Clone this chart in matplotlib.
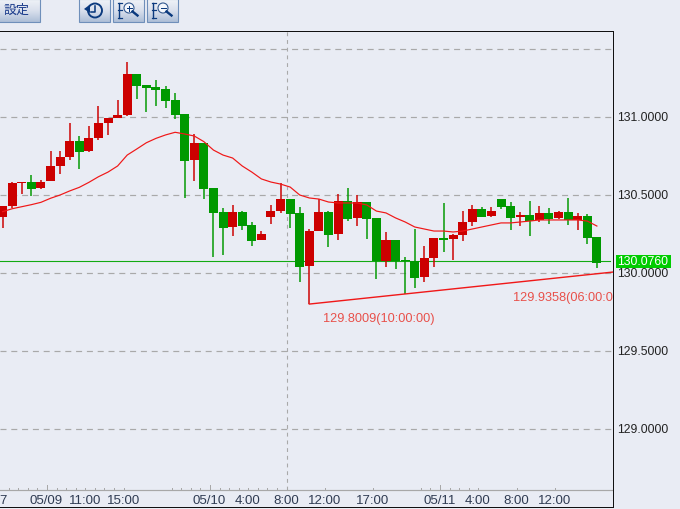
import numpy as np
import matplotlib
matplotlib.use("Agg")
import matplotlib.pyplot as plt
from matplotlib.patches import Circle, Rectangle, Polygon
from matplotlib.transforms import blended_transform_factory

W, H = 680, 509
BG = "#E9ECF4"
PX = 72 / 100  # points per pixel at dpi 100

opens = [130.359, 130.429, 130.577, 130.583, 130.545, 130.590, 130.686, 130.744, 130.846, 130.782, 130.865, 130.962, 130.994, 131.013,
         131.276, 131.205, 131.192, 131.179, 131.109, 131.019, 130.724, 130.833, 130.545, 130.391, 130.295, 130.391, 130.308, 130.212,
         130.359, 130.397, 130.474, 130.385, 130.045, 130.269, 130.391, 130.250, 130.462, 130.353, 130.455, 130.353, 130.077, 130.212,
         130.083, 130.077, 129.974, 130.096, 130.224, 130.218, 130.244, 130.327, 130.410, 130.365, 130.474, 130.429, 130.359, 130.372,
         130.340, 130.385, 130.353, 130.391, 130.340, 130.365, 130.231]
closes = [130.429, 130.577, 130.583, 130.538, 130.583, 130.686, 130.744, 130.846, 130.776, 130.865, 130.962, 130.994, 131.013, 131.276,
          131.199, 131.186, 131.173, 131.103, 131.013, 130.718, 130.833, 130.538, 130.385, 130.288, 130.391, 130.301, 130.205, 130.250,
          130.397, 130.474, 130.378, 130.038, 130.269, 130.391, 130.244, 130.462, 130.346, 130.455, 130.346, 130.077, 130.212, 130.077,
          130.077, 129.968, 130.096, 130.224, 130.212, 130.244, 130.327, 130.410, 130.359, 130.397, 130.423, 130.353, 130.372, 130.333,
          130.385, 130.346, 130.391, 130.340, 130.365, 130.224, 130.064]
highs = [130.429, 130.583, 130.583, 130.628, 130.596, 130.782, 130.782, 130.962, 130.878, 130.942, 131.070, 130.994, 131.109, 131.353,
         131.276, 131.205, 131.237, 131.199, 131.154, 131.019, 130.891, 130.833, 130.545, 130.417, 130.436, 130.397, 130.327, 130.269,
         130.436, 130.577, 130.474, 130.423, 130.282, 130.474, 130.397, 130.506, 130.545, 130.500, 130.455, 130.353, 130.263, 130.212,
         130.103, 130.282, 130.173, 130.224, 130.449, 130.250, 130.397, 130.436, 130.423, 130.423, 130.474, 130.455, 130.391, 130.462,
         130.429, 130.417, 130.397, 130.481, 130.385, 130.378, 130.231]
lows = [130.288, 130.417, 130.506, 130.494, 130.538, 130.590, 130.635, 130.724, 130.667, 130.776, 130.853, 130.885, 130.994, 131.006,
        131.115, 131.032, 131.070, 131.058, 130.987, 130.481, 130.590, 130.474, 130.103, 130.115, 130.237, 130.276, 130.173, 130.212,
        130.314, 130.385, 130.288, 129.942, 129.8009, 130.269, 130.167, 130.212, 130.333, 130.301, 130.218, 129.962, 130.038, 130.026,
        129.865, 129.904, 129.942, 130.038, 130.135, 130.083, 130.205, 130.301, 130.359, 130.359, 130.410, 130.276, 130.301, 130.237,
        130.327, 130.314, 130.346, 130.308, 130.276, 130.186, 130.032]
ma_values = [130.393, 130.412, 130.425, 130.438, 130.453, 130.479, 130.500, 130.526, 130.549, 130.581, 130.617, 130.647, 130.686, 130.756,
             130.795, 130.835, 130.863, 130.885, 130.902, 130.891, 130.878, 130.842, 130.788, 130.756, 130.737, 130.686, 130.647, 130.603,
             130.583, 130.570, 130.551, 130.500, 130.481, 130.474, 130.455, 130.449, 130.449, 130.449, 130.436, 130.397, 130.385, 130.353,
             130.327, 130.295, 130.282, 130.269, 130.269, 130.263, 130.269, 130.282, 130.295, 130.308, 130.321, 130.321, 130.327, 130.333,
             130.340, 130.340, 130.340, 130.340, 130.340, 130.333, 130.301]

price_ticks = [131.0, 130.5, 130.0, 129.5, 129.0]
price_labels = ["131.0000", "130.5000", "130.0000", "129.5000", "129.0000"]
grid_prices = [131.434, 131.0, 130.5, 130.0, 129.5, 129.0]
current_price = 130.076
current_label = "130.0760"

minor_ticks = list(range(0, 13)) + list(range(17, 30)) + [33, 38, 43, 44, 45, 46, 47, 48, 49, 53, 57]
major_ticks = [4, 21, 45]
time_ticks = [4, 8, 12, 21, 25, 29, 33, 38, 45, 49, 53, 57]
time_labels = ["05/09", "11:00", "15:00", "05/10", "4:00", "8:00", "12:00", "17:00", "05/11", "4:00", "8:00", "12:00"]
cross_tick = 29

trend_x = [32, 63.66]
trend_y = [129.8009, 130.006]
trend_text_1 = "129.8009(10:00:00)"
trend_text_2 = "129.9358(06:00:00)"

plt.rcParams["font.family"] = ["Liberation Sans", "DejaVu Sans"]
fig = plt.figure(figsize=(W / 100, H / 100), dpi=100, facecolor=BG)

def fx(px):
    return px / W

def fy(py):
    return 1 - py / H

top, bottom, right = 30.5, 507.0, 612.5
ax = fig.add_axes([0, fy(bottom), fx(right), (bottom - top) / H], facecolor=BG)
ax.set_xlim(-0.27, 63.63)
ax.set_ylim(130 + (273 - bottom) / 156, 130 + (273 - top) / 156)
ax.set_xticks([])
ax.set_yticks([])
ax.spines["left"].set_visible(False)
for s in ("top", "right", "bottom"):
    ax.spines[s].set_linewidth(1.0 * PX)
    ax.spines[s].set_color("#111111")

RED, GREEN = "#CC0000", "#009900"
TICK_OFF = 0.63
base_frac = (bottom - 490.3) / (bottom - top)
trans = blended_transform_factory(ax.transData, ax.transAxes)

for p in grid_prices:
    ax.plot([-0.27, 63.63], [p, p], color="#A9A9A9", lw=1.2 * PX, dashes=(5, 4), zorder=1)
ax.plot([cross_tick + TICK_OFF] * 2, [base_frac, 1], transform=trans, color="#A9A9A9", lw=1.1 * PX, dashes=(3.5, 3.5), zorder=1)

ax.plot([-0.27, 63.4], [current_price] * 2, color="#12AA12", lw=1.1 * PX, zorder=2)

for i, (o, c, h, l) in enumerate(zip(opens, closes, highs, lows)):
    col = RED if c >= o else GREEN
    ax.plot([i, i], [l, h], color=col, lw=1.5 * PX, solid_capstyle="butt", zorder=3)
    ax.bar(i, abs(c - o), bottom=min(o, c), width=0.94, color=col, linewidth=0, zorder=3)

ax.plot(range(len(ma_values)), ma_values, color="#F01818", lw=1.2 * PX, zorder=4)
ax.plot(trend_x, trend_y, color="#F01818", lw=1.4 * PX, zorder=4)

ax.text(33.42, 129.705, trend_text_1, color="#E8504A", fontsize=12.7 * PX, va="center", ha="left", clip_on=True)
ax.text(53.3, 129.84, trend_text_2, color="#E8504A", fontsize=12.7 * PX, va="center", ha="left", clip_on=True)

# time axis
ax.plot([0, 1], [base_frac] * 2, transform=ax.transAxes, color="#A8A8A8", lw=1.2 * PX, zorder=2)
for k in minor_ticks:
    ax.plot([k + TICK_OFF] * 2, [base_frac, base_frac + 2.5 / (bottom - top)], transform=trans, color="#A8A8A8", lw=1 * PX, zorder=2)
for k in major_ticks:
    ax.plot([k + TICK_OFF] * 2, [base_frac, base_frac + 5 / (bottom - top)], transform=trans, color="#A8A8A8", lw=1 * PX, zorder=2)
label_y = (bottom - 501.5) / (bottom - top)
for k, t in zip(time_ticks, time_labels):
    ax.text(k + TICK_OFF - 0.05, label_y, t, transform=trans, ha="center", va="center", fontsize=13.3 * PX, color="#2F3B52")
ax.text(0.02, label_y, "7", transform=trans, ha="center", va="center", fontsize=13.3 * PX, color="#2F3B52")

# price axis
for p, t in zip(price_ticks, price_labels):
    y = 273 - (p - 130) * 156
    fig.text(fx(617.5), fy(y + 1.2), t, ha="left", va="center", fontsize=12.3 * PX, color="#222222")
cy = 273 - (current_price - 130) * 156
fig.patches.append(Rectangle((fx(616), fy(268)), 55 / W, 13 / H, transform=fig.transFigure, facecolor="#00CC00", edgecolor="none", figure=fig))
fig.text(fx(617.5), fy(cy + 1.0), current_label, ha="left", va="center", fontsize=12.3 * PX, color="white")

# toolbar overlay
tb = fig.add_axes([0, 0, 1, 1], facecolor="none", zorder=5)
tb.set_xlim(0, W)
tb.set_ylim(H, 0)
tb.axis("off")
grad = np.linspace(0, 1, 22)[:, None]
cmap = matplotlib.colors.LinearSegmentedColormap.from_list("b", ["#EEF1F7", "#D8DFEC", "#AFBFD8"])
for x0, x1 in [(-2, 39.5), (78.5, 109.5), (112.5, 143.5), (146.5, 177.5)]:
    tb.imshow(grad, extent=(x0, x1, 22, 0), cmap=cmap, aspect="auto", zorder=1)
    tb.add_patch(Rectangle((x0, -1), x1 - x0, 23, fill=False, edgecolor="#6F8FBA", lw=1.1 * PX, zorder=2))
tb.set_xlim(0, W)
tb.set_ylim(H, 0)
ICON = "#0B3A7E"
tb.text(17, 10, "設定", family=["Noto Sans CJK JP", "DejaVu Sans"], fontsize=13 * PX, ha="center", va="center", color="#1B3C8C", zorder=3)
# history icon
tb.add_patch(Circle((95, 10.5), 7, fill=False, edgecolor=ICON, lw=1.9 * PX, zorder=3))
tb.plot([95, 95, 90.5], [6, 12, 12], color=ICON, lw=1.6 * PX, zorder=3)
tb.add_patch(Polygon([(84, 9), (90, 4.5), (90, 13)], facecolor=ICON, edgecolor="none", zorder=3))
# zoom icons
for x0, sign in [(119, "+"), (153, "-")]:
    tb.plot([x0, x0], [3, 18], color=ICON, lw=1.4 * PX, zorder=3)
    for ty in (3, 10, 18):
        tb.plot([x0 - 1.5, x0 + 2.5], [ty, ty], color=ICON, lw=1.2 * PX, zorder=3)
    cx = x0 + 10
    tb.add_patch(Circle((cx, 8), 5, facecolor="#F4F7FC", edgecolor="#33598F", lw=1.1 * PX, zorder=3))
    tb.plot([cx + 3.5, cx + 8.5], [11.5, 15.5], color=ICON, lw=2.4 * PX, zorder=3)
    tb.plot([cx - 2.5, cx + 2.5], [8, 8], color=ICON, lw=1 * PX, zorder=4)
    if sign == "+":
        tb.plot([cx, cx], [5.5, 10.5], color=ICON, lw=1 * PX, zorder=4)

fig.savefig("out.png", dpi=100, facecolor=BG)
